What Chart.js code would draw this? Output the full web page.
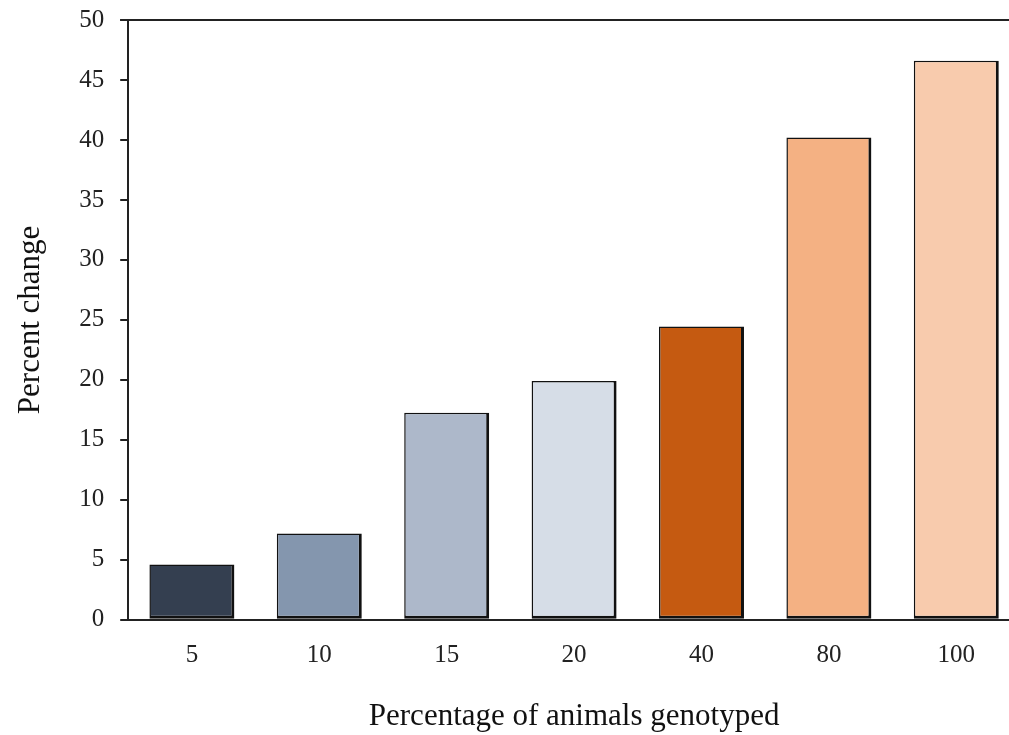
<!DOCTYPE html>
<html>
<head>
<meta charset="utf-8">
<script src="https://cdn.jsdelivr.net/npm/chart.js@4/dist/chart.umd.min.js"></script>
<style>
  html, body { margin: 0; padding: 0; background: #fff; overflow: hidden; }
  #wrap { position: relative; width: 1022px; height: 735px; }
</style>
</head>
<body>
<div id="wrap"><canvas id="myChart"></canvas></div>
<script>
// data
const categories = ['5', '10', '15', '20', '40', '80', '100'];
const percentChange = [4.6, 7.2, 17.25, 19.9, 24.45, 40.2, 46.6];
const barColors = ['#343f50', '#8496ae', '#adb8ca', '#d6dde7', '#c55a11', '#f4b183', '#f8cbad'];
const yTicks = [0, 5, 10, 15, 20, 25, 30, 35, 40, 45, 50];

// top frame line (across the plot, with a little stub on the left like the ticks)
const topLine = {
  id: 'topLine',
  afterDraw(chart) {
    const a = chart.chartArea, ctx = chart.ctx;
    ctx.save();
    ctx.strokeStyle = '#222';
    ctx.lineWidth = 2;
    ctx.beginPath();
    ctx.moveTo(a.left - 8, a.top);
    ctx.lineTo(a.right, a.top);
    ctx.stroke();
    ctx.restore();
  }
};

var ctx = document.getElementById('myChart').getContext('2d');
var chart = new Chart(ctx, {
  type: 'bar',
  data: {
    labels: categories,
    datasets: [{
      data: percentChange,
      backgroundColor: barColors,
      borderColor: '#111',
      borderWidth: { top: 1.5, left: 1.5, right: 3, bottom: 3 },
      borderSkipped: false,
      categoryPercentage: 1,
      barPercentage: 0.667
    }]
  },
  options: {
    responsive: true,
    maintainAspectRatio: false,
    animation: false,
    layout: { padding: { top: 20, left: 4, right: 2, bottom: 0 } },
    plugins: { legend: { display: false }, tooltip: { enabled: false } },
    scales: {
      x: {
        grid: { display: false },
        border: { color: '#222', width: 2 },
        ticks: { color: '#222', padding: 13, font: { family: 'Liberation Serif', size: 25 } },
        title: {
          display: true,
          text: 'Percentage of animals genotyped',
          color: '#111',
          padding: { top: 14, bottom: 0 },
          font: { family: 'Liberation Serif', size: 31 }
        }
      },
      y: {
        min: 0,
        max: 50,
        afterBuildTicks(axis) { axis.ticks = yTicks.map(v => ({ value: v })); },
        afterFit(axis) { axis.paddingTop = 0; axis.paddingBottom = 0; },
        grid: { drawOnChartArea: false, drawTicks: true, tickLength: 8, color: '#222', lineWidth: 2 },
        border: { color: '#222', width: 2 },
        ticks: { color: '#222', padding: 16, font: { family: 'Liberation Serif', size: 25 } },
        title: {
          display: true,
          text: 'Percent change',
          color: '#111',
          padding: { top: 8, bottom: 14 },
          font: { family: 'Liberation Serif', size: 31 }
        }
      }
    }
  },
  plugins: [topLine]
});
</script>
</body>
</html>
